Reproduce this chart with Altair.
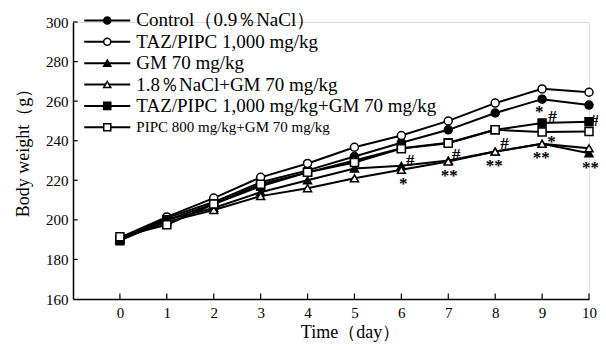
import altair as alt
import pandas as pd

# ---------------- data ----------------
days = list(range(11))
series_names = [
    "Control（0.9％NaCl）",
    "TAZ/PIPC  1,000 mg/kg",
    "GM  70 mg/kg",
    "1.8％NaCl+GM  70 mg/kg",
    "TAZ/PIPC 1,000 mg/kg+GM 70 mg/kg",
    "PIPC 800 mg/kg+GM 70 mg/kg",
]
control = [190, 201, 209, 219, 225, 232, 239, 245.5, 254, 261, 258]
taz = [191, 201.5, 211, 221.5, 228.5, 236.7, 242.6, 250, 259, 266.2, 264.5]
gm = [190, 200, 206, 214, 220, 226, 227.3, 230, 234.5, 238.4, 233.7]
nacl_gm = [190, 199, 205, 212, 216, 221, 225.3, 229.5, 234.5, 238.4, 236.2]
taz_gm = [189.5, 200, 208, 217, 224, 230, 236.2, 239, 245.5, 249, 249.6]
pipc_gm = [191.5, 197.5, 208, 218, 224, 229, 236, 238.7, 245.5, 244.4, 244.6]
all_series = [control, taz, gm, nacl_gm, taz_gm, pipc_gm]

shapes = ["circle", "circle", "triangle-up", "triangle-up", "square", "square"]
fills = ["black", "white", "black", "white", "black", "white"]

# significance marks
ann_x = [6.04, 6.19, 7.02, 7.17, 7.98, 8.2, 8.94, 9.22, 9.2, 8.98, 10.12, 10.03]
ann_y = [220.2, 231.8, 224.2, 234.8, 229.3, 240.4, 256.6, 254, 241.4, 233.3, 252, 228.3]
ann_text = ["*", "#", "**", "#", "**", "#", "*", "#", "*", "**", "#", "**"]

y_ticks = [160, 180, 200, 220, 240, 260, 280, 300]

# legend rows (in data units)
legend_y = [300.8, 290.0, 279.2, 268.4, 257.6, 246.8]

# ---------------- tables ----------------
rows = []
for name, vals in zip(series_names, all_series):
    for d, v in zip(days, vals):
        rows.append({"series": name, "day": d, "w": v})
df = pd.DataFrame(rows)

leg = pd.DataFrame({"series": series_names, "ly": legend_y, "idx": list(range(len(series_names)))})
leg["x0"] = -0.76
leg["x1"] = 0.22
leg["xm"] = -0.27
leg["xt"] = 0.35

ann = pd.DataFrame({"x": ann_x, "y": ann_y, "t": ann_text})
xt = pd.DataFrame({"d": days, "y0": 160, "y1": 162.8})
yt = pd.DataFrame({"v": y_ticks[1:], "x0": -1.0, "x1": -0.9})

FONT = "Liberation Serif"
xs = alt.Scale(domain=[-1, 10], nice=False, zero=False)
ys = alt.Scale(domain=[160, 300], nice=False, zero=False)
shape_scale = alt.Scale(domain=series_names, range=shapes)
fill_scale = alt.Scale(domain=series_names, range=fills)

common = dict(labelOverlap=False, labelFlush=False, labelFontSize=15, labelFont=FONT,
              titleFont=FONT, ticks=False, grid=False, domainColor="black", domainWidth=1.5,
              labelColor="black", titleColor="black", titleFontWeight="normal")
x_axis = alt.Axis(values=days, title="Time（day）", labelPadding=6, titlePadding=3,
                  titleFontSize=18, titleX=277, titleAlign="center", **common)
y_axis = alt.Axis(values=y_ticks, title="Body weight（g）", labelPadding=5, titlePadding=13,
                  titleFontSize=18, titleY=126, titleAlign="center", tickCount=8, **common)

base = alt.Chart(df)
lines = base.mark_line(color="black", strokeWidth=2).encode(
    x=alt.X("day:Q", scale=xs, axis=x_axis),
    y=alt.Y("w:Q", scale=ys, axis=y_axis),
    detail="series:N",
)
points = base.mark_point(filled=True, stroke="black", strokeWidth=1.5, size=64, opacity=1).encode(
    x=alt.X("day:Q", scale=xs, axis=x_axis),
    y=alt.Y("w:Q", scale=ys, axis=y_axis),
    shape=alt.Shape("series:N", scale=shape_scale, legend=None),
    fill=alt.Fill("series:N", scale=fill_scale, legend=None),
)

lb = alt.Chart(leg)
leg_lines = lb.mark_rule(color="black", strokeWidth=2).encode(
    x=alt.X("x0:Q", scale=xs), x2="x1:Q", y=alt.Y("ly:Q", scale=ys)
)
leg_points = lb.mark_point(filled=True, stroke="black", strokeWidth=1.5, size=50, opacity=1).encode(
    x=alt.X("xm:Q", scale=xs),
    y=alt.Y("ly:Q", scale=ys),
    shape=alt.Shape("series:N", scale=shape_scale, legend=None),
    fill=alt.Fill("series:N", scale=fill_scale, legend=None),
)
leg_text_big = lb.transform_filter(alt.datum.idx < 5).mark_text(
    align="left", baseline="middle", font=FONT, fontSize=19, color="black"
).encode(x=alt.X("xt:Q", scale=xs), y=alt.Y("ly:Q", scale=ys), text="series:N")
leg_text_small = lb.transform_filter(alt.datum.idx >= 5).mark_text(
    align="left", baseline="middle", font=FONT, fontSize=15, color="black"
).encode(x=alt.X("xt:Q", scale=xs), y=alt.Y("ly:Q", scale=ys), text="series:N")

ann_layer = alt.Chart(ann).mark_text(font=FONT, fontSize=17, fontWeight="bold", color="black",
                                      baseline="middle", dy=4).encode(
    x=alt.X("x:Q", scale=xs), y=alt.Y("y:Q", scale=ys), text="t:N"
)

xtick = alt.Chart(xt).mark_rule(color="black", strokeWidth=1.2).encode(
    x=alt.X("d:Q", scale=xs), y=alt.Y("y0:Q", scale=ys), y2="y1:Q"
)
ytick = alt.Chart(yt).mark_rule(color="black", strokeWidth=1.2).encode(
    x=alt.X("x0:Q", scale=xs), x2="x1:Q", y=alt.Y("v:Q", scale=ys)
)

chart = alt.layer(lines, points, leg_lines, leg_points, leg_text_big, leg_text_small,
                  ann_layer, xtick, ytick).properties(
    width=516, height=277,
    autosize=alt.AutoSizeParams(type="none"),
    padding={"left": 65, "top": 14, "right": 9, "bottom": 43},
).configure_view(stroke=None).configure(background="white").configure_axis(
    labelOverlap=False, labelFont=FONT, labelFontSize=15
)

chart.save("out.html", embed_options={"renderer": "svg", "actions": False})
